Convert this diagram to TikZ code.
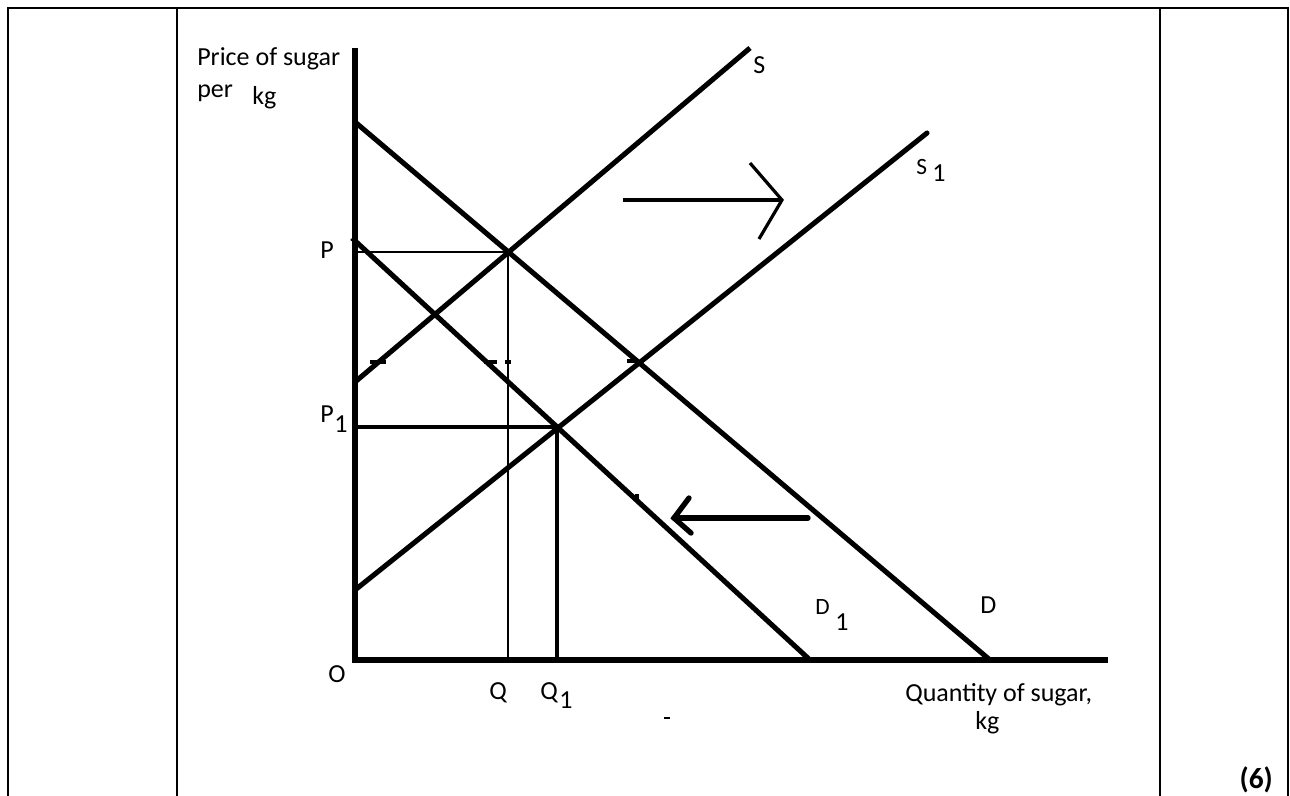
\documentclass[tikz,border=0pt]{standalone}
\usepackage{fontspec}
\setmainfont{Carlito}
\begin{document}
\begin{tikzpicture}[x=0.75pt,y=-0.75pt,
  frame/.style={line width=1.6pt},
  curve/.style={line width=3.8pt},
  guide/.style={line width=2pt},
  guidethick/.style={line width=3.6pt},
  shift arrow/.style={line width=2.4pt},
  lbl/.style={inner sep=0pt,anchor=base west,font=\fontsize{19.5}{22}\selectfont},
  small/.style={inner sep=0pt,anchor=base west,font=\fontsize{17.5}{20}\selectfont},
  remnant/.style={line width=2.4pt}]
\useasboundingbox (0,0) rectangle (1290,796);
% table frame
\coordinate (tl) at (8,8); \coordinate (tr) at (1288,8);
\coordinate (bl) at (8,796); \coordinate (br) at (1288,796);
\coordinate (c1t) at (177,8); \coordinate (c1b) at (177,796);
\coordinate (c2t) at (1160,8); \coordinate (c2b) at (1160,796);
\draw[frame] (bl) -- (tl) -- (tr) -- (br);
\draw[frame] (c1t) -- (c1b);
\draw[frame] (c2t) -- (c2b);
% axes
\coordinate (O) at (355,660);
\coordinate (ytop) at (355,48);
\coordinate (xend) at (1108,660);
\draw[line width=4.2pt] (ytop) -- (O) -- (xend);
% curves
\coordinate (Dt) at (355,122); \coordinate (Db) at (990,660);
\coordinate (D1t) at (352,238); \coordinate (D1b) at (810,660);
\coordinate (Sb) at (355,382); \coordinate (St) at (750,48);
\coordinate (S1b) at (355,590); \coordinate (S1t) at (927,133);
\draw[curve] (Dt) -- (Db);
\draw[curve] (D1t) -- (D1b);
\draw[curve] (Sb) -- (St);
\draw[curve,line cap=round] (S1b) -- (S1t);
% equilibrium guides
\coordinate (E) at (508,252); \coordinate (Py) at (355,252); \coordinate (Qx) at (508,660);
\coordinate (E1) at (557,427); \coordinate (P1y) at (355,427); \coordinate (Q1x) at (557,660);
\draw[guide] (Py) -- (E) -- (Qx);
\draw[guidethick] (P1y) -- (E1) -- (Q1x);
% remnants of erased dashed line
\draw[remnant] (352,362) -- (358,362);
\draw[remnant] (370,362) -- (386,362);
\draw[remnant] (484,362) -- (497,362);
\draw[remnant] (505,362) -- (511,362);
\draw[remnant] (627,361) -- (638,361);
\draw[remnant] (637,494) -- (637,501);
\draw[line width=1pt] (664,718) -- (670,718);
% shift arrows
\coordinate (ra1) at (623,200); \coordinate (ra2) at (782,200);
\coordinate (rh1) at (750,163); \coordinate (rh2) at (759,239);
\draw[shift arrow] (ra1) -- (ra2);
\draw[shift arrow] (rh1) -- (ra2) -- (rh2);
\coordinate (la1) at (808,518); \coordinate (la2) at (674,518);
\coordinate (lh1) at (689,498); \coordinate (lh2) at (691,533);
\draw[line width=4pt,line cap=round] (la1) -- (la2);
\draw[line width=4pt,line cap=round] (lh1) -- (la2) -- (lh2);
% labels
\node[lbl] (ylab1) at (197,65) {Price of sugar};
\node[lbl] (ylab2) at (197,97) {per};
\node[lbl] (ylab3) at (252,104) {kg};
\node[lbl] (lS) at (753,73) {S};
\node[small] (lS1a) at (916,174) {S};
\node[lbl] (lS1b) at (932,181) {1};
\node[lbl] (lP) at (320,258) {P};
\node[lbl] (lP1a) at (320,422) {P};
\node[lbl] (lP1b) at (334,432) {1};
\node[lbl] (lO) at (328,682) {O};
\node[lbl] (lQ) at (489,699) {Q};
\node[lbl] (lQ1a) at (540,699) {Q};
\node[lbl] (lQ1b) at (559,708) {1};
\node[small] (lD1a) at (815,614) {D};
\node[lbl] (lD1b) at (835,630) {1};
\node[lbl] (lD) at (980,613) {D};
\node[lbl] (xlab1) at (905,701) {Quantity of sugar,};
\node[lbl] (xlab2) at (975,729) {kg};
\node[lbl,anchor=base east,font=\fontsize{22}{24}\selectfont\bfseries] (marks) at (1273,788) {(6)};
\end{tikzpicture}
\end{document}
